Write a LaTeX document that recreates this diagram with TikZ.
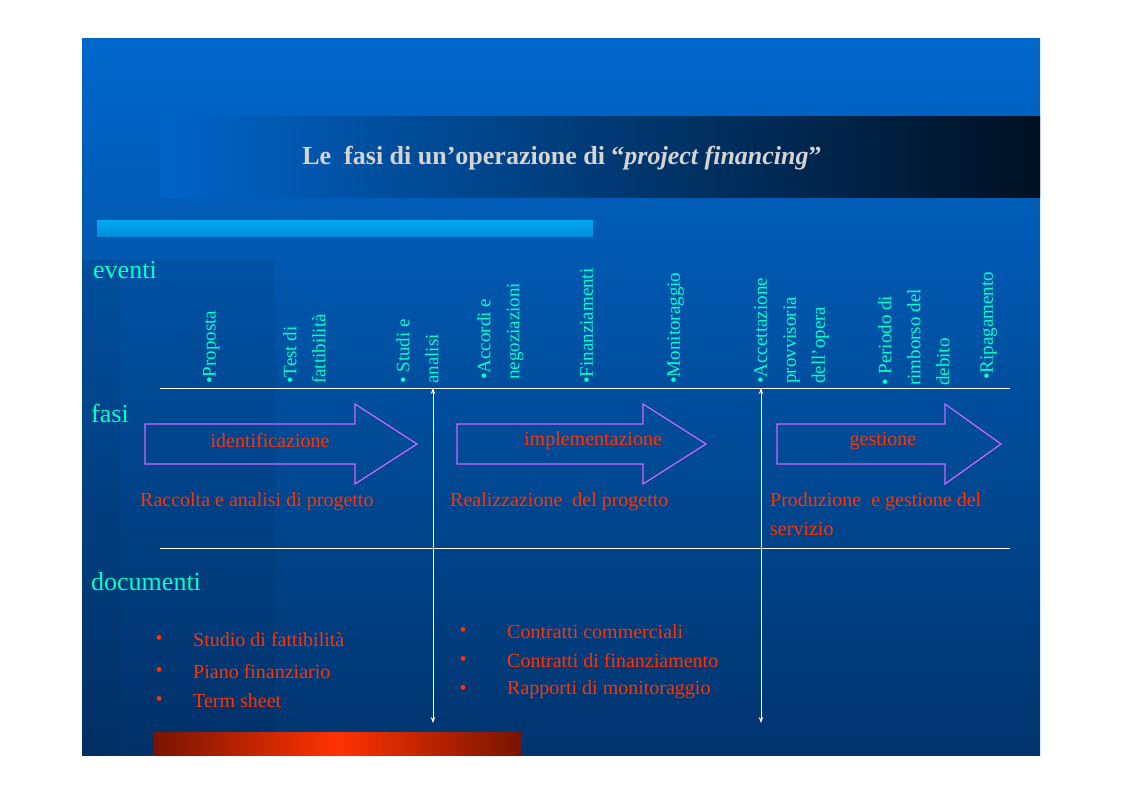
\documentclass[tikz,border=0pt]{standalone}
\usepackage{fontspec}
\usetikzlibrary{arrows.meta}
\setmainfont{Liberation Serif}
\definecolor{evcyan}{HTML}{00FFCC}
\definecolor{lblred}{HTML}{FF3300}
\definecolor{arrv}{HTML}{CC66FF}
\tikzset{
  ev/.style={rotate=90,anchor=north west,align=left,text=evcyan,inner sep=0pt,font=\fontsize{19}{29}\selectfont},
  sect/.style={anchor=west,text=evcyan,inner sep=0pt,font=\fontsize{26}{30}\selectfont},
  lbl/.style={text=lblred,inner sep=0pt,font=\fontsize{20}{29}\selectfont},
  phase/.style={draw=arrv,line width=1.2pt},
  wline/.style={draw=white,line width=1pt},
  varrow/.style={draw=white,line width=1pt,{Stealth[length=6pt]}-{Stealth[length=6pt]}}
}
\begin{document}
\begin{tikzpicture}[x=1pt,y=1pt]
\useasboundingbox (0,0) rectangle (1123,-793);
\fill[white] (0,0) rectangle (1123,-793);
\shade[top color={rgb,255:red,0;green,104;blue,204}, bottom color={rgb,255:red,0;green,52;blue,110}] (82,-38) rectangle (1040,-755);
\fill[black,opacity=0.10] (82,-260) rectangle (120,-755);
\fill[black,opacity=0.06] (120,-260) rectangle (275,-755);
\shade[left color={rgb,255:red,0;green,100;blue,200}, right color={rgb,255:red,0;green,16;blue,34}] (160,-116) rectangle (1040,-197);
\shade[top color={rgb,255:red,0;green,170;blue,240}, bottom color={rgb,255:red,0;green,140;blue,220}] (97,-220) rectangle (593,-236);
\shade[left color={rgb,255:red,120;green,20;blue,0}, right color={rgb,255:red,120;green,20;blue,0}, middle color={rgb,255:red,255;green,51;blue,0}] (153,-732) rectangle (521,-755);
\node (title) at (562,-158) {\fontsize{26}{30}\selectfont\bfseries\color[HTML]{D4D4D4} Le\ \ fasi di un’operazione di “\textit{project financing}”};
% sections
\node[sect] (eventi) at (93,-270) {eventi};
\node[sect] (fasi) at (91,-413) {fasi};
\node[sect] (documenti) at (91,-582) {documenti};
% lines
\coordinate (l1a) at (160,-388); \coordinate (l1b) at (1010,-388);
\coordinate (l2a) at (160,-548); \coordinate (l2b) at (1010,-548);
\draw[wline] (l1a) -- (l1b);
\draw[wline] (l2a) -- (l2b);
\coordinate (v1a) at (433,-388); \coordinate (v1b) at (433,-723);
\coordinate (v2a) at (761,-388); \coordinate (v2b) at (761,-723);
\draw[varrow] (v1a) -- (v1b);
\draw[varrow] (v2a) -- (v2b);
% events
\node[ev] (e1) at (203,-384) {•Proposta};
\node[ev] (e2) at (283,-384) {•Test di\\fattibilità};
\node[ev] (e3) at (396,-384) {• Studi e\\analisi};
\node[ev] (e4) at (477,-380) {•Accordi e\\negoziazioni};
\node[ev] (e5) at (580,-384) {•Finanziamenti};
\node[ev] (e6) at (667,-384) {•Monitoraggio};
\node[ev] (e7) at (754,-384) {•Accettazione\\provvisoria\\dell’opera};
\node[ev] (e8) at (878,-386) {• Periodo di\\rimborso del\\debito};
\node[ev] (e9) at (980,-380) {•Ripagamento};
% phase arrows
\draw[phase] (145,-424) -- (355,-424) -- (355,-404) -- (417,-444) -- (355,-484) -- (355,-464) -- (145,-464) -- cycle;
\draw[phase] (457,-424) -- (643,-424) -- (643,-404) -- (706,-444) -- (643,-484) -- (643,-464) -- (457,-464) -- cycle;
\draw[phase] (777,-424) -- (945,-424) -- (945,-404) -- (1001,-444) -- (945,-484) -- (945,-464) -- (777,-464) -- cycle;
\node[lbl] (p1) at (270,-441) {identificazione};
\node[lbl] (p2) at (593,-441) {implementazione};
\node[lbl] (p3) at (883,-441) {gestione};
\node[lbl,anchor=north west,align=left] (d1) at (140,-492) {Raccolta e analisi di progetto};
\node[lbl,anchor=north west,align=left] (d2) at (450,-492) {Realizzazione\ \ del progetto};
\node[lbl,anchor=north west,align=left] (d3) at (770,-492) {Produzione\ \ e gestione del\\servizio};
% documents
\node[lbl] (b1) at (159,-640) {•}; \node[lbl,anchor=west] (t1) at (193,-640) {Studio di fattibilità};
\node[lbl] (b2) at (159,-672) {•}; \node[lbl,anchor=west] (t2) at (193,-672) {Piano finanziario};
\node[lbl] (b3) at (159,-701) {•}; \node[lbl,anchor=west] (t3) at (193,-701) {Term sheet};
\node[lbl] (b4) at (463,-632) {•}; \node[lbl,anchor=west] (t4) at (507,-632) {Contratti commerciali};
\node[lbl] (b5) at (463,-661) {•}; \node[lbl,anchor=west] (t5) at (507,-661) {Contratti di finanziamento};
\node[lbl] (b6) at (463,-690) {•}; \node[lbl,anchor=west] (t6) at (507,-690) {Rapporti di monitoraggio};
\end{tikzpicture}
\end{document}
